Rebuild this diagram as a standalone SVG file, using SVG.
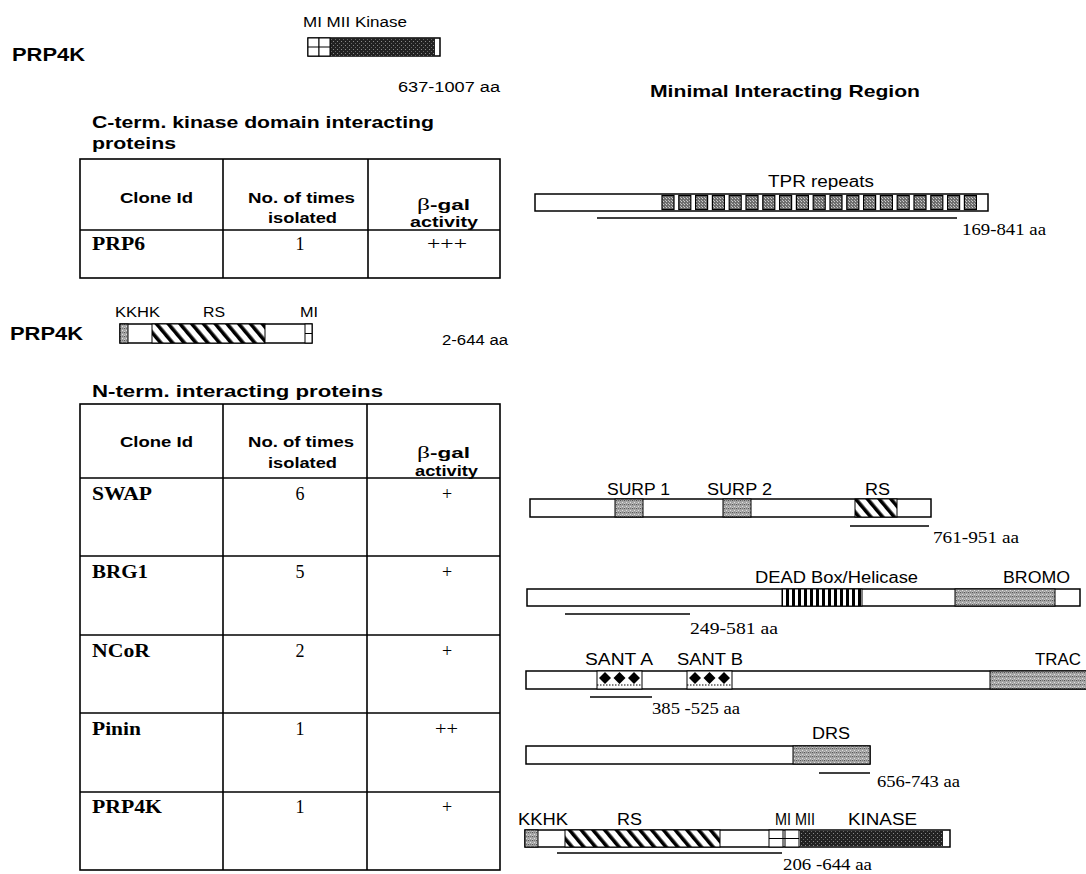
<svg xmlns="http://www.w3.org/2000/svg" width="1086" height="874" viewBox="0 0 1086 874">
<style>
text { font-family: "Liberation Sans", Arial, sans-serif; fill: #000; }
.serif { font-family: "Liberation Serif", "Times New Roman", serif; }
.b { font-weight: bold; }
.bar { fill: #fff; stroke: #000; stroke-width: 1.5; }
.dom { stroke: #000; stroke-width: 1; }
.ln { stroke: #000; stroke-width: 1.5; fill: none; }
.grid { stroke: #000; stroke-width: 1.6; fill: none; }
</style>
<defs>
<pattern id="hatch" patternUnits="userSpaceOnUse" width="9" height="9" patternTransform="rotate(-40)">
<rect width="9" height="9" fill="#fff"/><rect width="3.6" height="9" fill="#000"/>
</pattern>
<pattern id="vstripe" patternUnits="userSpaceOnUse" width="6" height="10">
<rect width="6" height="10" fill="#fff"/><rect width="3" height="10" fill="#000"/>
</pattern>
<pattern id="stipMid" patternUnits="userSpaceOnUse" width="4" height="4">
<rect width="4" height="4" fill="#a4a4a4"/><rect width="1" height="1" fill="#555"/><rect x="2" y="2" width="1" height="1" fill="#e0e0e0"/><rect x="2" y="0" width="1" height="1" fill="#777"/><rect x="0" y="3" width="1" height="1" fill="#ccc"/>
</pattern>
<pattern id="stipTPR" patternUnits="userSpaceOnUse" width="3" height="3">
<rect width="3" height="3" fill="#6e6e6e"/><rect width="1" height="1" fill="#d0d0d0"/><rect x="2" y="2" width="1" height="1" fill="#bbb"/>
</pattern>
<pattern id="stipDark" patternUnits="userSpaceOnUse" width="4" height="4">
<rect width="4" height="4" fill="#222"/><rect x="1" y="1" width="1" height="1" fill="#8a8a8a"/><rect x="3" y="3" width="1" height="1" fill="#666"/>
</pattern>
</defs>
<rect width="1086" height="874" fill="#fff"/>

<!-- top PRP4K kinase construct -->
<g id="prp4k-cterm">
<text x="12" y="61" font-size="18" class="b" textLength="73" lengthAdjust="spacingAndGlyphs">PRP4K</text>
<text x="303" y="27" font-size="14" textLength="104" lengthAdjust="spacingAndGlyphs">MI MII  Kinase</text>
<rect class="bar" x="308" y="38" width="132" height="18"/>
<rect x="330" y="38" width="105" height="18" fill="url(#stipDark)"/>
<rect class="dom" x="308" y="38" width="11" height="18" fill="#fff"/>
<rect class="dom" x="319" y="38" width="11" height="18" fill="#fff"/>
<line class="dom" x1="308" y1="47" x2="330" y2="47"/>
<text x="398" y="92" font-size="14" textLength="102" lengthAdjust="spacingAndGlyphs">637-1007 aa</text>
</g>

<g id="title">
<text x="650" y="97" font-size="17" class="b" textLength="270" lengthAdjust="spacingAndGlyphs">Minimal Interacting Region</text>
</g>

<g id="cterm-heading">
<text x="92" y="128" font-size="17" class="b" textLength="342" lengthAdjust="spacingAndGlyphs">C-term. kinase domain interacting</text>
<text x="92" y="149" font-size="17" class="b" textLength="84" lengthAdjust="spacingAndGlyphs">proteins</text>
</g>

<g id="table-cterm">
<rect class="grid" x="80" y="159" width="420" height="119"/>
<line class="grid" x1="80" y1="230" x2="500" y2="230"/>
<line class="grid" x1="223" y1="159" x2="223" y2="278"/>
<line class="grid" x1="368" y1="159" x2="368" y2="278"/>
<text x="120" y="203" font-size="15" class="b" textLength="73" lengthAdjust="spacingAndGlyphs">Clone Id</text>
<text x="248" y="203" font-size="15" class="b" textLength="107" lengthAdjust="spacingAndGlyphs">No. of times</text>
<text x="268" y="223" font-size="15" class="b" textLength="69" lengthAdjust="spacingAndGlyphs">isolated</text>
<text x="417" y="210" font-size="15" class="b" textLength="53" lengthAdjust="spacingAndGlyphs"><tspan class="serif" font-weight="normal" font-size="17">β</tspan>-gal</text>
<text x="410" y="227" font-size="15" class="b" textLength="68" lengthAdjust="spacingAndGlyphs">activity</text>
<text x="92" y="250" font-size="18" class="serif b" textLength="53" lengthAdjust="spacingAndGlyphs">PRP6</text>
<text x="300" y="250" font-size="18" class="serif" text-anchor="middle">1</text>
<text x="427" y="250" font-size="18" class="serif" textLength="40" lengthAdjust="spacingAndGlyphs">+++</text>
</g>

<!-- PRP4K N-terminal construct -->
<g id="prp4k-nterm">
<text x="10" y="340" font-size="18" class="b" textLength="73" lengthAdjust="spacingAndGlyphs">PRP4K</text>
<text x="115" y="317" font-size="14" textLength="45" lengthAdjust="spacingAndGlyphs">KKHK</text>
<text x="203" y="317" font-size="14" textLength="22" lengthAdjust="spacingAndGlyphs">RS</text>
<text x="300" y="317" font-size="14" textLength="18" lengthAdjust="spacingAndGlyphs">MI</text>
<rect class="bar" x="120" y="324" width="192" height="19"/>
<rect class="dom" x="120" y="324" width="8" height="19" fill="url(#stipMid)"/>
<rect class="dom" x="152" y="324" width="113" height="19" fill="url(#hatch)"/>
<rect class="dom" x="305" y="324" width="7" height="19" fill="#fff"/>
<line class="dom" x1="305" y1="333.5" x2="312" y2="333.5"/>
<text x="442" y="345" font-size="14" textLength="66" lengthAdjust="spacingAndGlyphs">2-644 aa</text>
</g>

<g id="nterm-heading">
<text x="92" y="397" font-size="17" class="b" textLength="291" lengthAdjust="spacingAndGlyphs">N-term. interacting proteins</text>
</g>

<g id="table-nterm">
<rect class="grid" x="80" y="404" width="420" height="466"/>
<line class="grid" x1="80" y1="478" x2="500" y2="478"/>
<line class="grid" x1="80" y1="556" x2="500" y2="556"/>
<line class="grid" x1="80" y1="635" x2="500" y2="635"/>
<line class="grid" x1="80" y1="713" x2="500" y2="713"/>
<line class="grid" x1="80" y1="792" x2="500" y2="792"/>
<line class="grid" x1="223" y1="404" x2="223" y2="870"/>
<line class="grid" x1="367" y1="404" x2="367" y2="870"/>
<text x="120" y="447" font-size="15" class="b" textLength="73" lengthAdjust="spacingAndGlyphs">Clone Id</text>
<text x="248" y="447" font-size="15" class="b" textLength="106" lengthAdjust="spacingAndGlyphs">No. of times</text>
<text x="268" y="468" font-size="15" class="b" textLength="69" lengthAdjust="spacingAndGlyphs">isolated</text>
<text x="417" y="458" font-size="15" class="b" textLength="53" lengthAdjust="spacingAndGlyphs"><tspan class="serif" font-weight="normal" font-size="17">β</tspan>-gal</text>
<text x="415" y="476" font-size="15" class="b" textLength="63" lengthAdjust="spacingAndGlyphs">activity</text>
<text x="92" y="500" font-size="18" class="serif b" textLength="60" lengthAdjust="spacingAndGlyphs">SWAP</text>
<text x="300" y="500" font-size="18" class="serif" text-anchor="middle">6</text>
<text x="447" y="500" font-size="18" class="serif" text-anchor="middle">+</text>
<text x="92" y="578" font-size="18" class="serif b" textLength="56" lengthAdjust="spacingAndGlyphs">BRG1</text>
<text x="300" y="578" font-size="18" class="serif" text-anchor="middle">5</text>
<text x="447" y="578" font-size="18" class="serif" text-anchor="middle">+</text>
<text x="92" y="657" font-size="18" class="serif b" textLength="58" lengthAdjust="spacingAndGlyphs">NCoR</text>
<text x="300" y="657" font-size="18" class="serif" text-anchor="middle">2</text>
<text x="447" y="657" font-size="18" class="serif" text-anchor="middle">+</text>
<text x="92" y="735" font-size="18" class="serif b" textLength="49" lengthAdjust="spacingAndGlyphs">Pinin</text>
<text x="300" y="735" font-size="18" class="serif" text-anchor="middle">1</text>
<text x="435" y="735" font-size="18" class="serif" textLength="23" lengthAdjust="spacingAndGlyphs">++</text>
<text x="92" y="813" font-size="18" class="serif b" textLength="70" lengthAdjust="spacingAndGlyphs">PRP4K</text>
<text x="300" y="813" font-size="18" class="serif" text-anchor="middle">1</text>
<text x="447" y="813" font-size="18" class="serif" text-anchor="middle">+</text>
</g>

<!-- Minimal interacting regions -->
<g id="prp6">
<text x="768" y="187" font-size="16" textLength="106" lengthAdjust="spacingAndGlyphs">TPR repeats</text>
<rect class="bar" x="535" y="194" width="453" height="17"/>
<g fill="url(#stipTPR)" stroke="#000" stroke-width="1.2">
<rect x="662" y="195.5" width="12" height="14"/><rect x="678.8" y="195.5" width="12" height="14"/><rect x="695.6" y="195.5" width="12" height="14"/><rect x="712.4" y="195.5" width="12" height="14"/><rect x="729.2" y="195.5" width="12" height="14"/><rect x="746" y="195.5" width="12" height="14"/><rect x="762.8" y="195.5" width="12" height="14"/><rect x="779.6" y="195.5" width="12" height="14"/><rect x="796.4" y="195.5" width="12" height="14"/><rect x="813.2" y="195.5" width="12" height="14"/><rect x="830" y="195.5" width="12" height="14"/><rect x="846.8" y="195.5" width="12" height="14"/><rect x="863.6" y="195.5" width="12" height="14"/><rect x="880.4" y="195.5" width="12" height="14"/><rect x="897.2" y="195.5" width="12" height="14"/><rect x="914" y="195.5" width="12" height="14"/><rect x="930.8" y="195.5" width="12" height="14"/><rect x="947.6" y="195.5" width="12" height="14"/><rect x="964.4" y="195.5" width="12" height="14"/>
</g>
<line class="ln" x1="597" y1="218" x2="957" y2="218"/>
<text x="962" y="235" font-size="16.5" class="serif" textLength="84" lengthAdjust="spacingAndGlyphs">169-841 aa</text>
</g>

<g id="swap">
<text x="607" y="495" font-size="16" textLength="63" lengthAdjust="spacingAndGlyphs">SURP 1</text>
<text x="707" y="495" font-size="16" textLength="65" lengthAdjust="spacingAndGlyphs">SURP 2</text>
<text x="865" y="495" font-size="16" textLength="25" lengthAdjust="spacingAndGlyphs">RS</text>
<rect class="bar" x="530" y="499" width="401" height="18"/>
<rect class="dom" x="615" y="499" width="28" height="18" fill="url(#stipMid)"/>
<rect class="dom" x="723" y="499" width="28" height="18" fill="url(#stipMid)"/>
<rect class="dom" x="855" y="499" width="42" height="18" fill="url(#hatch)"/>
<line class="ln" x1="850" y1="526" x2="929" y2="526"/>
<text x="933" y="543" font-size="16.5" class="serif" textLength="86" lengthAdjust="spacingAndGlyphs">761-951 aa</text>
</g>

<g id="brg1">
<text x="755" y="583" font-size="16" textLength="163" lengthAdjust="spacingAndGlyphs">DEAD Box/Helicase</text>
<text x="1003" y="583" font-size="16" textLength="67" lengthAdjust="spacingAndGlyphs">BROMO</text>
<rect class="bar" x="527" y="589" width="553" height="17"/>
<rect class="dom" x="782" y="589" width="80" height="17" fill="url(#vstripe)"/>
<rect class="dom" x="955" y="589" width="100" height="17" fill="url(#stipMid)"/>
<line class="ln" x1="565" y1="614" x2="690" y2="614"/>
<text x="690" y="634" font-size="16.5" class="serif" textLength="88" lengthAdjust="spacingAndGlyphs">249-581 aa</text>
</g>

<g id="ncor">
<text x="585" y="665" font-size="16" textLength="68" lengthAdjust="spacingAndGlyphs">SANT A</text>
<text x="677" y="665" font-size="16" textLength="66" lengthAdjust="spacingAndGlyphs">SANT B</text>
<text x="1035" y="665" font-size="16" textLength="46" lengthAdjust="spacingAndGlyphs">TRAC</text>
<rect class="bar" x="526" y="671" width="562" height="18"/>
<rect class="dom" x="990" y="671" width="98" height="18" fill="url(#stipMid)"/>
<rect class="dom" x="597" y="671" width="45" height="18" fill="#fff"/>
<rect class="dom" x="687" y="671" width="45" height="18" fill="#fff"/>
<line class="dom" x1="597" y1="685" x2="642" y2="685" stroke-dasharray="1.5 1.5"/>
<line class="dom" x1="687" y1="685" x2="732" y2="685" stroke-dasharray="1.5 1.5"/>
<g fill="#000">
<polygon points="605,672 611,678 605,684 599,678"/><polygon points="619.5,672 625.5,678 619.5,684 613.5,678"/><polygon points="634,672 640,678 634,684 628,678"/>
<polygon points="695,672 701,678 695,684 689,678"/><polygon points="709.5,672 715.5,678 709.5,684 703.5,678"/><polygon points="724,672 730,678 724,684 718,678"/>
</g>
<line class="ln" x1="590" y1="697" x2="652" y2="697"/>
<text x="652" y="714" font-size="16.5" class="serif" textLength="88" lengthAdjust="spacingAndGlyphs">385 -525 aa</text>
</g>

<g id="pinin">
<text x="812" y="739" font-size="16" textLength="38" lengthAdjust="spacingAndGlyphs">DRS</text>
<rect class="bar" x="526" y="746" width="344" height="18"/>
<rect class="dom" x="793" y="746" width="77" height="18" fill="url(#stipMid)"/>
<line class="ln" x1="819" y1="773" x2="870" y2="773"/>
<text x="877" y="787" font-size="16.5" class="serif" textLength="83" lengthAdjust="spacingAndGlyphs">656-743 aa</text>
</g>

<g id="prp4k-full">
<text x="518" y="825" font-size="16" textLength="50" lengthAdjust="spacingAndGlyphs">KKHK</text>
<text x="617" y="825" font-size="16" textLength="25" lengthAdjust="spacingAndGlyphs">RS</text>
<text x="775" y="825" font-size="16" textLength="40" lengthAdjust="spacingAndGlyphs">MI MII</text>
<text x="848" y="825" font-size="16" textLength="69" lengthAdjust="spacingAndGlyphs">KINASE</text>
<rect class="bar" x="525" y="830" width="425" height="17"/>
<rect class="dom" x="525" y="830" width="13" height="17" fill="url(#stipMid)"/>
<rect class="dom" x="565" y="830" width="155" height="17" fill="url(#hatch)"/>
<rect class="dom" x="769" y="830" width="14" height="17" fill="#fff"/>
<rect class="dom" x="785" y="830" width="14" height="17" fill="#fff"/>
<line class="dom" x1="769" y1="838.5" x2="799" y2="838.5"/>
<rect x="800" y="830.7" width="143" height="15.6" fill="url(#stipDark)"/>
<line class="ln" x1="557" y1="853" x2="782" y2="853"/>
<text x="783" y="870" font-size="16.5" class="serif" textLength="89" lengthAdjust="spacingAndGlyphs">206 -644 aa</text>
</g>

<g id="connectors"></g>
</svg>
